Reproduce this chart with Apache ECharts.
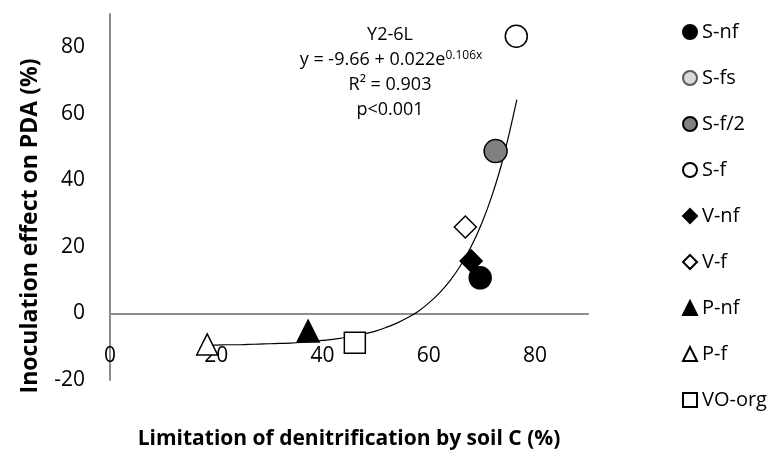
<!DOCTYPE html>
<html>
<head>
<meta charset="utf-8">
<script src="https://cdn.jsdelivr.net/npm/echarts@6/dist/echarts.min.js"></script>
<style>
  html, body { margin: 0; padding: 0; background: #fff; }
  #chart { width: 774px; height: 450px; }
</style>
</head>
<body>
<div id="chart"></div>
<script>
// 数据
var groups = ["S-nf", "S-fs", "S-f/2", "S-f", "V-nf", "V-f", "P-nf", "P-f", "VO-org"];
var sNf = [[69.7, 10.7]];
var sFs = [];
var sF2 = [[72.6, 48.8]];
var sF = [[76.5, 83.3]];
var vNf = [[68.0, 15.8]];
var vF = [[66.9, 26.0]];
var pNf = [[37.3, -5.3]];
var pF = [[18.3, -9.3]];
var voOrg = [[46.1, -8.8]];

// 趋势线（沿图中曲线读点）
var trendX = [18, 20, 22, 24, 26, 28, 30, 32, 34, 36, 38, 40, 42, 44, 46, 48, 50, 52, 54, 56, 58, 60, 62, 64, 66, 68, 70, 72, 74, 76.6];
var trendY = [-9.5, -9.5, -9.4, -9.4, -9.3, -9.2, -9.1, -9.0, -8.9, -8.7, -8.4, -8.1, -7.8, -7.3, -6.8, -6.1, -5.3, -4.2, -2.9, -1.3, 0.6, 3.1, 6.1, 9.8, 14.4, 20.1, 27.1, 35.8, 46.5, 64.3];

var xTicks = [0, 20, 40, 60, 80];
var yTicks = [-20, 0, 20, 40, 60, 80];

var FONT = '"Open Sans", "Noto Sans", sans-serif';

var chart = echarts.init(document.getElementById("chart"));

// 每组的样式
function sc(name, data, symbol, size, fill, border) {
  return {
    name: name,
    type: "scatter",
    data: data,
    symbol: symbol,
    symbolSize: size,
    z: 3,
    itemStyle: { color: fill, borderColor: border, borderWidth: 1.5, opacity: 1 }
  };
}

var option = {
  animation: false,
  backgroundColor: "#fff",
  textStyle: { fontFamily: FONT },
  grid: { left: 110, right: 186, top: 14, bottom: 70, outerBoundsMode: "none", containLabel: false },
  legend: {
    data: groups,
    orient: "vertical",
    left: 677,
    top: 17,
    itemWidth: 14,
    itemHeight: 14,
    itemGap: 26,
    textStyle: { fontSize: 20, color: "#000", fontFamily: FONT }
  },
  xAxis: {
    type: "value",
    min: 0,
    max: 90,
    interval: 20,
    name: "Limitation of denitrification by soil C (%)",
    nameLocation: "middle",
    nameGap: 49,
    nameTextStyle: { fontSize: 21, fontWeight: "bold", color: "#000", fontFamily: FONT },
    axisLine: { onZero: true, lineStyle: { color: "#8c8c8c", width: 2 } },
    axisTick: { show: false },
    splitLine: { show: false },
    axisLabel: {
      fontSize: 21, color: "#000", margin: -34, showMaxLabel: false,
      formatter: function (v) { return xTicks.indexOf(v) >= 0 ? String(v) : ""; }
    }
  },
  yAxis: {
    type: "value",
    min: -20,
    max: 90,
    interval: 20,
    name: "Inoculation effect on PDA (%)",
    nameLocation: "middle",
    nameGap: 68,
    nameTextStyle: { fontSize: 23, fontWeight: "bold", color: "#000", fontFamily: FONT, padding: [0, 58, 0, 0] },
    axisLine: { show: true, onZero: false, lineStyle: { color: "#8c8c8c", width: 2 } },
    axisTick: { show: false },
    splitLine: { show: false },
    axisLabel: {
      fontSize: 21, color: "#000", margin: 25, showMaxLabel: false,
      formatter: function (v) { return yTicks.indexOf(v) >= 0 ? String(v) : ""; }
    }
  },
  graphic: [
    { type: "text", x: 390, y: 35, style: { text: "Y2-6L", fontSize: 18, fontFamily: FONT, fill: "#000", align: "center", verticalAlign: "middle" } },
    { type: "text", x: 391, y: 60, style: {
        text: "y = -9.66 + 0.022e{sup|0.106x}", fontSize: 18, fontFamily: FONT, fill: "#000", align: "center", verticalAlign: "middle",
        rich: { sup: { fontSize: 12, fontFamily: FONT, fill: "#000", verticalAlign: "top", padding: [0, 0, 8, 0] } }
    } },
    { type: "text", x: 390, y: 85, style: { text: "R\u00b2 = 0.903", fontSize: 18, fontFamily: FONT, fill: "#000", align: "center", verticalAlign: "middle" } },
    { type: "text", x: 390, y: 110, style: { text: "p<0.001", fontSize: 18, fontFamily: FONT, fill: "#000", align: "center", verticalAlign: "middle" } }
  ],
  series: [
    {
      name: "trend",
      type: "line",
      data: trendX.map(function (x, i) { return [x, trendY[i]]; }),
      showSymbol: false,
      smooth: 0.4,
      silent: true,
      z: 2,
      lineStyle: { color: "#000", width: 1.2 }
    },
    sc("S-nf", sNf, "circle", 22, "#000", "#000"),
    sc("S-fs", sFs, "circle", 22, "#d9d9d9", "#595959"),
    sc("S-f/2", sF2, "circle", 23, "#808080", "#000"),
    sc("S-f", sF, "circle", 22, "#fff", "#000"),
    sc("V-nf", vNf, "diamond", 22, "#000", "#000"),
    sc("V-f", vF, "diamond", 22, "#fff", "#000"),
    sc("P-nf", pNf, "triangle", 22, "#000", "#000"),
    sc("P-f", pF, "triangle", 21, "#fff", "#000"),
    sc("VO-org", voOrg, "rect", 21, "#fff", "#000")
  ]
};

chart.setOption(option);
</script>
</body>
</html>
